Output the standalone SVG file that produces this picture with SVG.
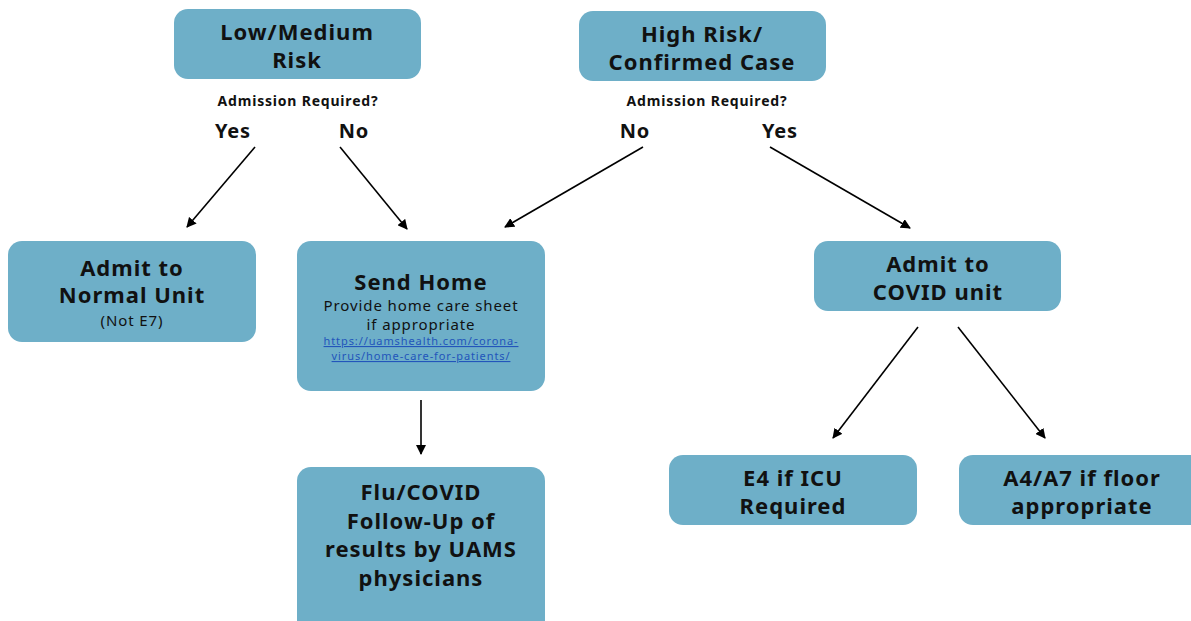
<svg xmlns="http://www.w3.org/2000/svg" width="1191" height="621" viewBox="0 0 1191 621">
<defs>
<marker id="ah" viewBox="0 0 10 10" refX="9" refY="5" markerWidth="10" markerHeight="10" markerUnits="userSpaceOnUse" orient="auto">
<path d="M0,0 L10,5 L0,10 z" fill="#000"/>
</marker>
<style>
.box{fill:#6eafc8;}
.t{font-family:"Noto Sans","DejaVu Sans",sans-serif;font-weight:bold;font-size:22px;letter-spacing:1px;fill:#111;text-anchor:middle;}
.s{font-family:"Noto Sans","DejaVu Sans",sans-serif;font-size:15px;letter-spacing:0.9px;fill:#111;text-anchor:middle;}
.q{font-family:"Noto Sans","DejaVu Sans",sans-serif;font-weight:bold;font-size:14px;letter-spacing:0.8px;fill:#111;text-anchor:middle;}
.yn{font-family:"Noto Sans","DejaVu Sans",sans-serif;font-weight:bold;font-size:20px;letter-spacing:0.8px;fill:#111;text-anchor:middle;}
.lnk{font-family:"Noto Sans","DejaVu Sans",sans-serif;font-size:11px;letter-spacing:0.9px;fill:#2255bb;text-anchor:middle;text-decoration:underline;}
.c{stroke:#000;stroke-width:1.6;fill:none;marker-end:url(#ah);}
</style>
</defs>
<rect width="1191" height="621" fill="#fff"/>
<g id="low-risk">
<rect class="box" x="174" y="9" width="247" height="70" rx="14"/>
<text class="t" x="297" y="40">Low/Medium</text>
<text class="t" x="297" y="68">Risk</text>
</g>
<g id="high-risk">
<rect class="box" x="579" y="11" width="247" height="70" rx="14"/>
<text class="t" x="702" y="42">High Risk/</text>
<text class="t" x="702" y="70">Confirmed Case</text>
</g>
<g id="labels">
<text class="q" x="298" y="106">Admission Required?</text>
<text class="yn" x="233" y="138">Yes</text>
<text class="yn" x="354" y="138">No</text>
<text class="q" x="707" y="106">Admission Required?</text>
<text class="yn" x="635" y="138">No</text>
<text class="yn" x="780" y="138">Yes</text>
</g>
<g id="admit-normal">
<rect class="box" x="8" y="241" width="248" height="101" rx="14"/>
<text class="t" x="132" y="276">Admit to</text>
<text class="t" x="132" y="303">Normal Unit</text>
<text class="s" x="132" y="326">(Not E7)</text>
</g>
<g id="send-home">
<rect class="box" x="297" y="241" width="248" height="150" rx="14"/>
<text class="t" x="421" y="290">Send Home</text>
<text class="s" x="421" y="311">Provide home care sheet</text>
<text class="s" x="421" y="330">if appropriate</text>
<text class="lnk" x="421" y="345">https://uamshealth.com/corona-</text>
<text class="lnk" x="421" y="360">virus/home-care-for-patients/</text>
</g>
<g id="followup">
<rect class="box" x="297" y="467" width="248" height="170" rx="14"/>
<text class="t" x="421" y="500">Flu/COVID</text>
<text class="t" x="421" y="529">Follow-Up of</text>
<text class="t" x="421" y="557">results by UAMS</text>
<text class="t" x="421" y="586">physicians</text>
</g>
<g id="admit-covid">
<rect class="box" x="814" y="241" width="247" height="70" rx="14"/>
<text class="t" x="938" y="272">Admit to</text>
<text class="t" x="938" y="300">COVID unit</text>
</g>
<g id="e4">
<rect class="box" x="669" y="455" width="248" height="70" rx="14"/>
<text class="t" x="793" y="486">E4 if ICU</text>
<text class="t" x="793" y="514">Required</text>
</g>
<g id="a4a7">
<rect class="box" x="959" y="455" width="248" height="70" rx="14"/>
<text class="t" x="1082" y="486">A4/A7 if floor</text>
<text class="t" x="1082" y="514">appropriate</text>
</g>
<g id="connectors">
<line class="c" x1="255" y1="147" x2="187" y2="227"/>
<line class="c" x1="340" y1="147" x2="407" y2="229"/>
<line class="c" x1="643" y1="147" x2="505" y2="227"/>
<line class="c" x1="770" y1="147" x2="910" y2="228"/>
<line class="c" x1="421" y1="400" x2="421" y2="454"/>
<line class="c" x1="918" y1="327" x2="833" y2="438"/>
<line class="c" x1="958" y1="327" x2="1045" y2="438"/>
</g>
</svg>
